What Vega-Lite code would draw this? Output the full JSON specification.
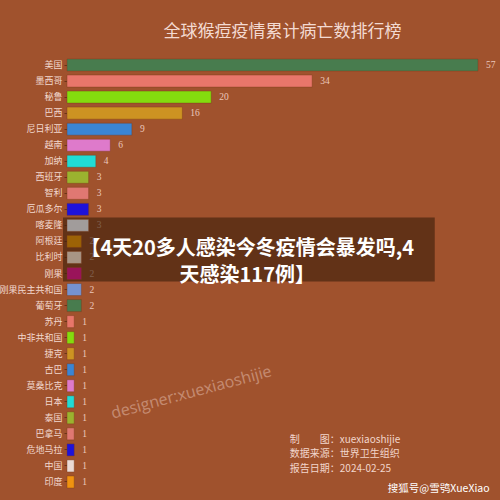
{
  "$schema": "https://vega.github.io/schema/vega-lite/v6.json",
  "autosize": "none",
  "width": 411,
  "height": 433,
  "padding": {"left": 67, "top": 57, "right": 22, "bottom": 10},
  "background": "#A0522D",
  "title": {
    "text": "全球猴痘疫情累计病亡数排行榜",
    "font": "Noto Sans CJK SC",
    "fontSize": 17,
    "fontWeight": "normal",
    "color": "#F3DAD2",
    "anchor": "middle",
    "dx": 10,
    "offset": 16
  },
  "config": {"view": {"stroke": null}},
  "data": {"values": [
    {"country": "美国", "deaths": 57},
    {"country": "墨西哥", "deaths": 34},
    {"country": "秘鲁", "deaths": 20},
    {"country": "巴西", "deaths": 16},
    {"country": "尼日利亚", "deaths": 9},
    {"country": "越南", "deaths": 6},
    {"country": "加纳", "deaths": 4},
    {"country": "西班牙", "deaths": 3},
    {"country": "智利", "deaths": 3},
    {"country": "厄瓜多尔", "deaths": 3},
    {"country": "喀麦隆", "deaths": 3},
    {"country": "阿根廷", "deaths": 2},
    {"country": "比利时", "deaths": 2},
    {"country": "刚果", "deaths": 2},
    {"country": "刚果民主共和国", "deaths": 2},
    {"country": "葡萄牙", "deaths": 2},
    {"country": "苏丹", "deaths": 1},
    {"country": "中非共和国", "deaths": 1},
    {"country": "捷克", "deaths": 1},
    {"country": "古巴", "deaths": 1},
    {"country": "莫桑比克", "deaths": 1},
    {"country": "日本", "deaths": 1},
    {"country": "泰国", "deaths": 1},
    {"country": "巴拿马", "deaths": 1},
    {"country": "危地马拉", "deaths": 1},
    {"country": "中国", "deaths": 1},
    {"country": "印度", "deaths": 1}
  ]},
  "encoding": {
    "y": {
      "field": "country", "type": "nominal", "sort": null,
      "scale": {"paddingInner": 0.25, "paddingOuter": 0.125},
      "axis": {
        "title": null, "domain": false, "ticks": true, "tickSize": 3, "tickColor": "#6B3418",
        "labelPadding": 2, "labelFont": "Noto Sans CJK SC", "labelFontSize": 9,
        "labelColor": "#F2D8CF", "labelLimit": 0
      }
    }
  },
  "layer": [
    {
      "mark": {"type": "text", "align": "left", "baseline": "middle", "dx": 8, "font": "Liberation Serif", "fontSize": 9.5, "color": "#EBC7BC"},
      "encoding": {
        "x": {"field": "deaths", "type": "quantitative", "scale": {"domain": [0, 57], "nice": false, "zero": true}, "axis": null},
        "text": {"field": "deaths"}
      }
    },
    {
      "data": {"values": [{"label": "banner"}]},
      "mark": {"type": "bar", "height": 64, "yOffset": 8, "color": "#3C1E0A", "opacity": 0.62},
      "encoding": {
        "x": {"datum": -0.55, "type": "quantitative"},
        "x2": {"datum": 51},
        "y": {"datum": "阿根廷"}
      }
    },
    {
      "mark": {"type": "bar", "strokeWidth": 0.8, "strokeOpacity": 0.5, "stroke": "#7a3a1a"},
      "encoding": {
        "x": {"field": "deaths", "type": "quantitative"},
        "color": {
          "field": "country", "type": "nominal", "legend": null,
          "scale": {
            "domain": ["美国","墨西哥","秘鲁","巴西","尼日利亚","越南","加纳","西班牙","智利","厄瓜多尔","喀麦隆","阿根廷","比利时","刚果","刚果民主共和国","葡萄牙","苏丹","中非共和国","捷克","古巴","莫桑比克","日本","泰国","巴拿马","危地马拉","中国","印度"],
            "range": ["#487C4E","#E8766A","#84DC0E","#CD9322","#3A85D4","#DE7ACB","#20DCD6","#9BB22F","#E07872","#1E12DA","#A19C9B","#9C6206","#A89585","#9A145A","#7592CF","#487C4E","#E8766A","#84DC0E","#CD9322","#3A85D4","#DE7ACB","#20DCD6","#9BB22F","#E07872","#1E12DA","#EADAD5","#F09310"]
          }
        }
      }
    },
    {
      "data": {"values": [{"text": ["【4天20多人感染今冬疫情会暴发吗,4", "天感染117例】"]}]},
      "mark": {"type": "text", "align": "center", "baseline": "middle", "dy": 8, "font": "Noto Sans CJK SC", "fontWeight": "bold", "fontSize": 20, "lineHeight": 27, "color": "#FFFFFF"},
      "encoding": {
        "x": {"datum": 25, "type": "quantitative"},
        "y": {"datum": "阿根廷"},
        "text": {"field": "text"}
      }
    },
    {
      "data": {"values": [{"text": "designer:xuexiaoshijie"}]},
      "mark": {"type": "text", "align": "center", "baseline": "middle", "angle": 345, "dy": 7, "font": "Open Sans", "fontSize": 16, "color": "#F0D0C4", "opacity": 0.45},
      "encoding": {
        "x": {"datum": 17, "type": "quantitative"},
        "y": {"datum": "莫桑比克"},
        "text": {"field": "text"}
      }
    },
    {
      "data": {"values": [{"text": ["制　　图：xuexiaoshijie", "数据来源：世界卫生组织", "报告日期：2024-02-25"]}]},
      "mark": {"type": "text", "align": "left", "baseline": "middle", "dy": 6, "font": "Noto Sans CJK SC", "fontSize": 10, "lineHeight": 14.5, "color": "#F2D6CC"},
      "encoding": {
        "x": {"datum": 30.9, "type": "quantitative"},
        "y": {"datum": "巴拿马"},
        "text": {"field": "text"}
      }
    },
    {
      "data": {"values": [{"text": "搜狐号@雪鸮XueXiao"}]},
      "mark": {"type": "text", "align": "left", "baseline": "middle", "dy": 7, "font": "Noto Sans CJK SC", "fontSize": 10.5, "color": "#FFFFFF"},
      "encoding": {
        "x": {"datum": 44.5, "type": "quantitative"},
        "y": {"datum": "印度"},
        "text": {"field": "text"}
      }
    }
  ]
}
